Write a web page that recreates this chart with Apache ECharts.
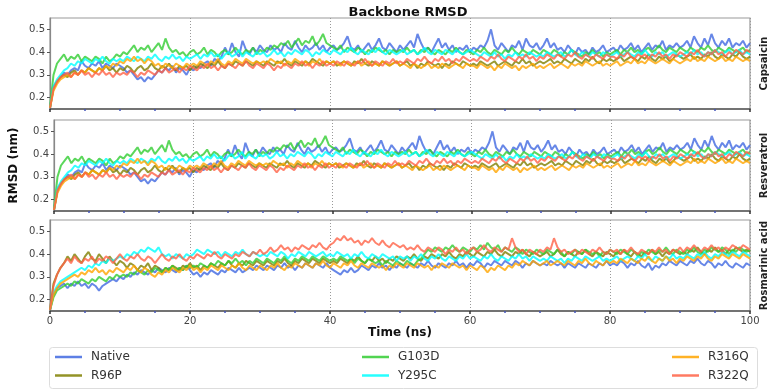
<!DOCTYPE html>
<html>
<head>
<meta charset="utf-8">
<script src="https://cdn.jsdelivr.net/npm/echarts@6/dist/echarts.min.js"></script>
<style>
  html, body { margin: 0; padding: 0; background: #fff; }
  #chart { width: 777px; height: 391px; }
</style>
</head>
<body>
<div id="chart"></div>
<script>
// time points (ns), every 0.5 ns
const time = [];
for (let i = 0; i <= 200; i++) time.push(i / 2);

const names = ['Native', 'R96P', 'G103D', 'Y295C', 'R316Q', 'R322Q'];
const colors = ['#4169E1', '#808000', '#32CD32', '#00FFFF', '#FFA500', '#FF6347'];
const panelNames = ['Capsaicin', 'Resveratrol', 'Rosmarinic acid'];
const yLabels = [0.2, 0.3, 0.4, 0.5];
const xLabels = [0, 20, 40, 60, 80, 100];

// ---- Capsaicin ----
const capNative = [0.155,
  0.25, 0.27, 0.29, 0.31, 0.30, 0.32, 0.33, 0.32, 0.36, 0.34, 0.33, 0.35, 0.34, 0.36, 0.33, 0.35, 0.34, 0.33, 0.35, 0.34,
  0.33, 0.31, 0.32, 0.30, 0.28, 0.29, 0.27, 0.29, 0.28, 0.30, 0.32, 0.31, 0.33, 0.32, 0.34, 0.31, 0.33, 0.32, 0.30, 0.33,
  0.32, 0.34, 0.33, 0.35, 0.36, 0.34, 0.37, 0.36, 0.38, 0.42, 0.39, 0.44, 0.40, 0.38, 0.45, 0.41, 0.39, 0.42, 0.40, 0.43,
  0.41, 0.40, 0.43, 0.41, 0.42, 0.40, 0.44, 0.42, 0.41, 0.45, 0.42, 0.40, 0.43, 0.41, 0.42, 0.44, 0.41, 0.43, 0.40, 0.42,
  0.43, 0.41, 0.42, 0.44, 0.47, 0.42, 0.41, 0.43, 0.40, 0.42, 0.44, 0.41, 0.43, 0.46, 0.42, 0.41, 0.44, 0.42, 0.40, 0.43,
  0.41, 0.43, 0.45, 0.42, 0.48, 0.44, 0.41, 0.42, 0.40, 0.43, 0.46, 0.42, 0.44, 0.41, 0.43, 0.40, 0.42, 0.41, 0.43, 0.40,
  0.42, 0.41, 0.43, 0.42, 0.45, 0.50, 0.43, 0.41, 0.44, 0.42, 0.40, 0.43, 0.42, 0.45, 0.41, 0.46, 0.43, 0.42, 0.44, 0.41,
  0.43, 0.46, 0.42, 0.44, 0.41, 0.42, 0.40, 0.43, 0.41, 0.39, 0.42, 0.40, 0.41, 0.39, 0.42, 0.40, 0.41, 0.43, 0.40, 0.41,
  0.42, 0.40, 0.43, 0.41, 0.42, 0.44, 0.41, 0.43, 0.40, 0.42, 0.44, 0.41, 0.43, 0.42, 0.45, 0.41, 0.43, 0.42, 0.44, 0.42,
  0.43, 0.45, 0.42, 0.47, 0.44, 0.42, 0.46, 0.43, 0.48, 0.44, 0.42, 0.45, 0.43, 0.46, 0.42, 0.44, 0.43, 0.45, 0.42, 0.44];
const capR96P = [0.155,
  0.24, 0.27, 0.29, 0.30, 0.29, 0.31, 0.32, 0.30, 0.32, 0.31, 0.33, 0.32, 0.31, 0.33, 0.32, 0.34, 0.32, 0.33, 0.31, 0.33,
  0.32, 0.34, 0.33, 0.31, 0.33, 0.34, 0.32, 0.33, 0.35, 0.33, 0.32, 0.34, 0.33, 0.35, 0.33, 0.32, 0.34, 0.33, 0.34, 0.32,
  0.34, 0.33, 0.35, 0.34, 0.33, 0.35, 0.34, 0.36, 0.34, 0.33, 0.35, 0.34, 0.36, 0.35, 0.34, 0.36, 0.35, 0.34, 0.36, 0.35,
  0.34, 0.36, 0.35, 0.34, 0.36, 0.35, 0.37, 0.35, 0.34, 0.36, 0.35, 0.34, 0.36, 0.35, 0.37, 0.36, 0.35, 0.34, 0.36, 0.35,
  0.36, 0.34, 0.35, 0.36, 0.35, 0.34, 0.36, 0.35, 0.37, 0.35, 0.34, 0.36, 0.35, 0.34, 0.36, 0.35, 0.34, 0.35, 0.36, 0.34,
  0.35, 0.36, 0.34, 0.35, 0.33, 0.35, 0.34, 0.36, 0.35, 0.34, 0.35, 0.33, 0.35, 0.34, 0.36, 0.35, 0.34, 0.36, 0.35, 0.34,
  0.35, 0.34, 0.36, 0.35, 0.34, 0.35, 0.36, 0.34, 0.35, 0.36, 0.35, 0.34, 0.36, 0.35, 0.37, 0.35, 0.36, 0.34, 0.35, 0.36,
  0.35, 0.36, 0.37, 0.35, 0.36, 0.35, 0.37, 0.36, 0.35, 0.37, 0.36, 0.35, 0.37, 0.36, 0.38, 0.36, 0.35, 0.37, 0.36, 0.37,
  0.36, 0.37, 0.38, 0.36, 0.37, 0.38, 0.37, 0.36, 0.38, 0.37, 0.39, 0.37, 0.36, 0.38, 0.37, 0.38, 0.36, 0.37, 0.39, 0.38,
  0.37, 0.38, 0.39, 0.37, 0.38, 0.37, 0.39, 0.38, 0.40, 0.38, 0.37, 0.39, 0.38, 0.37, 0.39, 0.38, 0.40, 0.38, 0.37, 0.38];
const capG103D = [0.16,
  0.30, 0.35, 0.37, 0.39, 0.36, 0.38, 0.37, 0.39, 0.36, 0.38, 0.37, 0.36, 0.38, 0.37, 0.35, 0.38, 0.36, 0.37, 0.39, 0.38,
  0.40, 0.39, 0.41, 0.43, 0.40, 0.42, 0.41, 0.43, 0.40, 0.42, 0.44, 0.41, 0.46, 0.42, 0.40, 0.41, 0.39, 0.40, 0.38, 0.40,
  0.41, 0.39, 0.40, 0.42, 0.39, 0.41, 0.40, 0.38, 0.40, 0.41, 0.39, 0.40, 0.42, 0.40, 0.39, 0.41, 0.40, 0.42, 0.39, 0.41,
  0.40, 0.42, 0.41, 0.43, 0.42, 0.44, 0.43, 0.45, 0.42, 0.44, 0.46, 0.43, 0.45, 0.44, 0.47, 0.43, 0.45, 0.48, 0.44, 0.43,
  0.42, 0.41, 0.43, 0.40, 0.42, 0.41, 0.40, 0.42, 0.41, 0.39, 0.41, 0.40, 0.42, 0.41, 0.40, 0.41, 0.39, 0.41, 0.40, 0.41,
  0.40, 0.42, 0.40, 0.41, 0.39, 0.41, 0.40, 0.42, 0.40, 0.39, 0.41, 0.40, 0.39, 0.41, 0.40, 0.42, 0.40, 0.39, 0.41, 0.40,
  0.39, 0.41, 0.40, 0.42, 0.40, 0.39, 0.41, 0.40, 0.39, 0.41, 0.40, 0.42, 0.40, 0.39, 0.41, 0.40, 0.39, 0.41, 0.40, 0.39,
  0.41, 0.40, 0.39, 0.41, 0.40, 0.38, 0.40, 0.39, 0.41, 0.40, 0.39, 0.38, 0.40, 0.39, 0.41, 0.39, 0.40, 0.38, 0.40, 0.39,
  0.40, 0.41, 0.39, 0.41, 0.40, 0.42, 0.40, 0.41, 0.39, 0.41, 0.42, 0.40, 0.41, 0.43, 0.41, 0.40, 0.42, 0.41, 0.40, 0.42,
  0.41, 0.40, 0.42, 0.41, 0.40, 0.42, 0.41, 0.43, 0.41, 0.40, 0.42, 0.41, 0.40, 0.42, 0.41, 0.40, 0.41, 0.42, 0.40, 0.41];
const capY295C = [0.155,
  0.25, 0.28, 0.30, 0.32, 0.33, 0.35, 0.34, 0.36, 0.35, 0.37, 0.36, 0.35, 0.37, 0.36, 0.38, 0.36, 0.35, 0.37, 0.36, 0.37,
  0.36, 0.38, 0.37, 0.36, 0.38, 0.37, 0.36, 0.38, 0.37, 0.39, 0.37, 0.36, 0.38, 0.37, 0.39, 0.37, 0.38, 0.36, 0.38, 0.37,
  0.38, 0.39, 0.37, 0.39, 0.38, 0.40, 0.38, 0.39, 0.37, 0.39, 0.40, 0.38, 0.39, 0.41, 0.38, 0.40, 0.39, 0.38, 0.40, 0.39,
  0.40, 0.38, 0.39, 0.41, 0.39, 0.40, 0.38, 0.40, 0.39, 0.41, 0.40, 0.39, 0.41, 0.40, 0.38, 0.40, 0.39, 0.41, 0.40, 0.39,
  0.41, 0.40, 0.39, 0.41, 0.40, 0.42, 0.40, 0.39, 0.41, 0.40, 0.39, 0.41, 0.40, 0.42, 0.40, 0.39, 0.41, 0.40, 0.39, 0.40,
  0.41, 0.39, 0.40, 0.41, 0.39, 0.40, 0.42, 0.40, 0.39, 0.41, 0.40, 0.39, 0.41, 0.40, 0.39, 0.41, 0.40, 0.39, 0.40, 0.41,
  0.40, 0.39, 0.38, 0.40, 0.39, 0.38, 0.40, 0.38, 0.39, 0.37, 0.39, 0.38, 0.40, 0.38, 0.39, 0.38, 0.40, 0.39, 0.38, 0.39,
  0.38, 0.40, 0.39, 0.38, 0.39, 0.40, 0.38, 0.39, 0.41, 0.39, 0.38, 0.40, 0.39, 0.38, 0.40, 0.39, 0.38, 0.40, 0.39, 0.38,
  0.39, 0.40, 0.38, 0.39, 0.40, 0.39, 0.38, 0.40, 0.39, 0.41, 0.39, 0.38, 0.40, 0.39, 0.40, 0.38, 0.39, 0.40, 0.39, 0.38,
  0.39, 0.40, 0.39, 0.41, 0.39, 0.40, 0.38, 0.40, 0.39, 0.41, 0.40, 0.39, 0.40, 0.41, 0.39, 0.40, 0.41, 0.39, 0.40, 0.39];
const capR316Q = [0.155,
  0.23, 0.26, 0.28, 0.29, 0.30, 0.29, 0.31, 0.30, 0.32, 0.31, 0.33, 0.32, 0.31, 0.33, 0.32, 0.34, 0.33, 0.35, 0.34, 0.36,
  0.35, 0.37, 0.36, 0.38, 0.36, 0.37, 0.35, 0.37, 0.36, 0.34, 0.35, 0.33, 0.35, 0.34, 0.33, 0.35, 0.34, 0.33, 0.35, 0.34,
  0.35, 0.34, 0.36, 0.35, 0.34, 0.36, 0.35, 0.37, 0.35, 0.34, 0.36, 0.35, 0.37, 0.36, 0.35, 0.37, 0.36, 0.35, 0.36, 0.35,
  0.36, 0.35, 0.37, 0.36, 0.35, 0.36, 0.34, 0.36, 0.35, 0.37, 0.36, 0.35, 0.36, 0.34, 0.36, 0.35, 0.37, 0.35, 0.36, 0.35,
  0.36, 0.35, 0.34, 0.36, 0.35, 0.34, 0.35, 0.36, 0.34, 0.35, 0.36, 0.34, 0.35, 0.34, 0.36, 0.35, 0.34, 0.35, 0.36, 0.34,
  0.35, 0.34, 0.33, 0.35, 0.34, 0.33, 0.34, 0.35, 0.33, 0.34, 0.33, 0.35, 0.34, 0.33, 0.34, 0.35, 0.34, 0.33, 0.35, 0.34,
  0.34, 0.33, 0.35, 0.34, 0.33, 0.34, 0.32, 0.34, 0.33, 0.35, 0.34, 0.33, 0.34, 0.32, 0.34, 0.33, 0.34, 0.35, 0.33, 0.34,
  0.33, 0.34, 0.35, 0.33, 0.34, 0.35, 0.34, 0.33, 0.35, 0.34, 0.35, 0.34, 0.36, 0.35, 0.34, 0.35, 0.36, 0.34, 0.35, 0.34,
  0.35, 0.36, 0.34, 0.35, 0.36, 0.35, 0.37, 0.35, 0.36, 0.35, 0.37, 0.36, 0.35, 0.36, 0.37, 0.36, 0.35, 0.37, 0.36, 0.35,
  0.36, 0.37, 0.36, 0.38, 0.36, 0.37, 0.36, 0.38, 0.37, 0.36, 0.37, 0.38, 0.36, 0.37, 0.36, 0.38, 0.37, 0.36, 0.37, 0.36];
const capR322Q = [0.155,
  0.24, 0.27, 0.29, 0.30, 0.31, 0.29, 0.31, 0.30, 0.32, 0.30, 0.31, 0.29, 0.31, 0.30, 0.32, 0.30, 0.31, 0.29, 0.31, 0.30,
  0.31, 0.30, 0.32, 0.31, 0.29, 0.31, 0.30, 0.32, 0.31, 0.30, 0.32, 0.31, 0.33, 0.31, 0.32, 0.33, 0.31, 0.33, 0.32, 0.34,
  0.33, 0.32, 0.34, 0.33, 0.35, 0.33, 0.34, 0.32, 0.34, 0.33, 0.35, 0.34, 0.33, 0.35, 0.34, 0.36, 0.34, 0.33, 0.35, 0.34,
  0.33, 0.35, 0.34, 0.32, 0.34, 0.33, 0.35, 0.34, 0.33, 0.35, 0.34, 0.36, 0.34, 0.35, 0.33, 0.35, 0.34, 0.36, 0.34, 0.35,
  0.34, 0.36, 0.35, 0.34, 0.36, 0.35, 0.34, 0.36, 0.35, 0.37, 0.35, 0.34, 0.36, 0.35, 0.34, 0.36, 0.35, 0.37, 0.35, 0.36,
  0.35, 0.37, 0.36, 0.35, 0.37, 0.36, 0.38, 0.36, 0.35, 0.37, 0.36, 0.38, 0.36, 0.37, 0.35, 0.37, 0.36, 0.38, 0.37, 0.36,
  0.37, 0.36, 0.38, 0.37, 0.36, 0.38, 0.37, 0.39, 0.37, 0.36, 0.38, 0.37, 0.36, 0.38, 0.37, 0.39, 0.37, 0.38, 0.36, 0.38,
  0.37, 0.39, 0.38, 0.37, 0.39, 0.38, 0.37, 0.39, 0.38, 0.40, 0.38, 0.37, 0.39, 0.38, 0.37, 0.39, 0.38, 0.37, 0.39, 0.38,
  0.38, 0.37, 0.39, 0.38, 0.40, 0.38, 0.37, 0.39, 0.38, 0.39, 0.37, 0.39, 0.38, 0.40, 0.38, 0.39, 0.37, 0.39, 0.38, 0.40,
  0.39, 0.38, 0.40, 0.39, 0.41, 0.39, 0.38, 0.40, 0.39, 0.41, 0.39, 0.40, 0.38, 0.40, 0.39, 0.41, 0.40, 0.39, 0.41, 0.40];

// ---- Resveratrol: the figure shows the same traces as Capsaicin ----
const resNative = capNative, resR96P = capR96P, resG103D = capG103D;
const resY295C = capY295C, resR316Q = capR316Q, resR322Q = capR322Q;

// ---- Rosmarinic acid ----
const rosNative = [0.155,
  0.22, 0.25, 0.26, 0.27, 0.25, 0.27, 0.26, 0.28, 0.26, 0.27, 0.25, 0.27, 0.26, 0.24, 0.26, 0.27, 0.28, 0.29, 0.28, 0.30,
  0.29, 0.31, 0.30, 0.32, 0.31, 0.33, 0.32, 0.31, 0.33, 0.32, 0.34, 0.33, 0.32, 0.34, 0.33, 0.32, 0.34, 0.33, 0.35, 0.33,
  0.31, 0.32, 0.30, 0.32, 0.31, 0.33, 0.32, 0.31, 0.33, 0.32, 0.34, 0.33, 0.32, 0.34, 0.32, 0.33, 0.34, 0.33, 0.35, 0.34,
  0.33, 0.35, 0.34, 0.33, 0.35, 0.34, 0.36, 0.34, 0.35, 0.33, 0.35, 0.34, 0.36, 0.35, 0.34, 0.36, 0.35, 0.34, 0.36, 0.34,
  0.33, 0.32, 0.31, 0.33, 0.32, 0.34, 0.32, 0.33, 0.35, 0.34, 0.33, 0.35, 0.34, 0.36, 0.34, 0.35, 0.33, 0.35, 0.34, 0.36,
  0.35, 0.34, 0.36, 0.35, 0.34, 0.36, 0.35, 0.37, 0.35, 0.34, 0.36, 0.35, 0.34, 0.36, 0.35, 0.37, 0.35, 0.36, 0.34, 0.36,
  0.35, 0.37, 0.36, 0.34, 0.36, 0.35, 0.37, 0.36, 0.35, 0.37, 0.36, 0.35, 0.37, 0.36, 0.34, 0.36, 0.35, 0.37, 0.36, 0.35,
  0.36, 0.35, 0.37, 0.36, 0.35, 0.36, 0.34, 0.36, 0.35, 0.34, 0.36, 0.35, 0.34, 0.36, 0.35, 0.34, 0.36, 0.35, 0.37, 0.35,
  0.36, 0.35, 0.37, 0.36, 0.34, 0.36, 0.35, 0.37, 0.35, 0.34, 0.36, 0.33, 0.35, 0.34, 0.36, 0.35, 0.37, 0.36, 0.35, 0.37,
  0.36, 0.35, 0.37, 0.36, 0.38, 0.36, 0.35, 0.37, 0.36, 0.34, 0.36, 0.35, 0.37, 0.35, 0.34, 0.36, 0.35, 0.34, 0.36, 0.35];
const rosR96P = [0.155,
  0.27, 0.31, 0.34, 0.36, 0.39, 0.37, 0.40, 0.38, 0.36, 0.39, 0.41, 0.38, 0.37, 0.40, 0.38, 0.36, 0.39, 0.37, 0.35, 0.37,
  0.36, 0.34, 0.36, 0.35, 0.33, 0.35, 0.34, 0.36, 0.33, 0.35, 0.34, 0.32, 0.34, 0.33, 0.35, 0.34, 0.33, 0.35, 0.34, 0.36,
  0.34, 0.35, 0.33, 0.35, 0.34, 0.36, 0.35, 0.34, 0.36, 0.35, 0.37, 0.35, 0.34, 0.36, 0.35, 0.37, 0.36, 0.35, 0.37, 0.36,
  0.35, 0.37, 0.36, 0.35, 0.37, 0.36, 0.38, 0.36, 0.35, 0.37, 0.36, 0.38, 0.37, 0.36, 0.38, 0.37, 0.36, 0.38, 0.37, 0.36,
  0.37, 0.36, 0.38, 0.37, 0.36, 0.38, 0.37, 0.39, 0.37, 0.36, 0.38, 0.37, 0.39, 0.37, 0.38, 0.36, 0.38, 0.37, 0.39, 0.38,
  0.37, 0.39, 0.38, 0.40, 0.38, 0.37, 0.39, 0.38, 0.40, 0.39, 0.38, 0.40, 0.39, 0.41, 0.39, 0.38, 0.40, 0.39, 0.41, 0.40,
  0.39, 0.41, 0.40, 0.39, 0.41, 0.40, 0.42, 0.40, 0.39, 0.41, 0.40, 0.39, 0.41, 0.40, 0.42, 0.40, 0.39, 0.41, 0.40, 0.39,
  0.40, 0.41, 0.39, 0.40, 0.42, 0.40, 0.39, 0.41, 0.40, 0.39, 0.41, 0.40, 0.42, 0.40, 0.39, 0.41, 0.40, 0.39, 0.41, 0.40,
  0.39, 0.41, 0.40, 0.42, 0.40, 0.39, 0.41, 0.40, 0.39, 0.41, 0.40, 0.42, 0.40, 0.41, 0.39, 0.41, 0.40, 0.42, 0.41, 0.40,
  0.41, 0.40, 0.42, 0.41, 0.43, 0.41, 0.40, 0.42, 0.41, 0.43, 0.41, 0.42, 0.40, 0.42, 0.41, 0.43, 0.42, 0.41, 0.42, 0.41];
const rosG103D = [0.155,
  0.21, 0.24, 0.25, 0.26, 0.27, 0.26, 0.28, 0.27, 0.29, 0.28, 0.27, 0.29, 0.28, 0.30, 0.29, 0.28, 0.30, 0.29, 0.31, 0.30,
  0.31, 0.30, 0.32, 0.31, 0.33, 0.32, 0.31, 0.33, 0.32, 0.34, 0.33, 0.32, 0.34, 0.33, 0.35, 0.33, 0.34, 0.33, 0.35, 0.34,
  0.35, 0.34, 0.36, 0.35, 0.34, 0.36, 0.35, 0.37, 0.36, 0.35, 0.37, 0.36, 0.38, 0.36, 0.37, 0.35, 0.37, 0.36, 0.38, 0.37,
  0.36, 0.38, 0.37, 0.36, 0.38, 0.37, 0.39, 0.37, 0.36, 0.38, 0.37, 0.39, 0.38, 0.37, 0.39, 0.38, 0.37, 0.39, 0.38, 0.37,
  0.38, 0.37, 0.39, 0.38, 0.37, 0.38, 0.36, 0.38, 0.37, 0.36, 0.38, 0.37, 0.36, 0.37, 0.35, 0.37, 0.36, 0.35, 0.37, 0.36,
  0.35, 0.37, 0.36, 0.35, 0.37, 0.38, 0.40, 0.42, 0.41, 0.43, 0.42, 0.41, 0.43, 0.42, 0.44, 0.42, 0.41, 0.43, 0.42, 0.41,
  0.43, 0.42, 0.44, 0.42, 0.45, 0.43, 0.42, 0.44, 0.41, 0.43, 0.42, 0.41, 0.43, 0.42, 0.40, 0.42, 0.41, 0.40, 0.42, 0.41,
  0.40, 0.42, 0.41, 0.40, 0.42, 0.41, 0.39, 0.41, 0.40, 0.42, 0.41, 0.40, 0.42, 0.41, 0.40, 0.41, 0.39, 0.41, 0.40, 0.42,
  0.41, 0.40, 0.42, 0.41, 0.40, 0.42, 0.41, 0.39, 0.41, 0.40, 0.42, 0.41, 0.40, 0.42, 0.41, 0.43, 0.41, 0.40, 0.42, 0.41,
  0.40, 0.42, 0.41, 0.43, 0.41, 0.40, 0.42, 0.41, 0.43, 0.42, 0.41, 0.43, 0.42, 0.40, 0.42, 0.41, 0.43, 0.42, 0.41, 0.42];
const rosY295C = [0.155,
  0.23, 0.26, 0.28, 0.29, 0.30, 0.31, 0.32, 0.33, 0.34, 0.33, 0.35, 0.34, 0.36, 0.35, 0.37, 0.36, 0.38, 0.37, 0.38, 0.39,
  0.38, 0.40, 0.39, 0.41, 0.40, 0.42, 0.41, 0.43, 0.42, 0.41, 0.43, 0.40, 0.39, 0.40, 0.38, 0.40, 0.39, 0.38, 0.40, 0.39,
  0.40, 0.42, 0.41, 0.40, 0.42, 0.41, 0.40, 0.41, 0.39, 0.41, 0.40, 0.39, 0.41, 0.40, 0.42, 0.40, 0.39, 0.41, 0.40, 0.39,
  0.40, 0.39, 0.41, 0.40, 0.39, 0.41, 0.40, 0.38, 0.40, 0.39, 0.41, 0.40, 0.39, 0.41, 0.40, 0.39, 0.40, 0.41, 0.39, 0.40,
  0.39, 0.41, 0.40, 0.39, 0.40, 0.38, 0.40, 0.39, 0.41, 0.39, 0.38, 0.40, 0.39, 0.38, 0.40, 0.39, 0.38, 0.39, 0.37, 0.39,
  0.38, 0.39, 0.37, 0.39, 0.38, 0.40, 0.38, 0.37, 0.39, 0.38, 0.40, 0.38, 0.37, 0.39, 0.38, 0.37, 0.39, 0.38, 0.40, 0.38,
  0.39, 0.38, 0.37, 0.39, 0.38, 0.40, 0.38, 0.37, 0.39, 0.38, 0.37, 0.39, 0.38, 0.40, 0.38, 0.39, 0.37, 0.39, 0.38, 0.37,
  0.38, 0.37, 0.39, 0.38, 0.37, 0.38, 0.36, 0.38, 0.37, 0.39, 0.38, 0.37, 0.39, 0.38, 0.37, 0.38, 0.39, 0.37, 0.38, 0.37,
  0.38, 0.39, 0.37, 0.38, 0.39, 0.38, 0.37, 0.39, 0.38, 0.40, 0.38, 0.37, 0.39, 0.38, 0.37, 0.39, 0.38, 0.40, 0.38, 0.39,
  0.38, 0.40, 0.39, 0.38, 0.40, 0.39, 0.41, 0.39, 0.38, 0.40, 0.39, 0.41, 0.40, 0.39, 0.41, 0.40, 0.39, 0.41, 0.40, 0.39];
const rosR316Q = [0.155,
  0.22, 0.25, 0.27, 0.28, 0.29, 0.30, 0.31, 0.30, 0.32, 0.31, 0.33, 0.32, 0.34, 0.32, 0.33, 0.31, 0.33, 0.32, 0.34, 0.33,
  0.32, 0.34, 0.33, 0.35, 0.33, 0.32, 0.34, 0.33, 0.31, 0.30, 0.32, 0.31, 0.33, 0.32, 0.34, 0.33, 0.32, 0.34, 0.33, 0.35,
  0.33, 0.34, 0.32, 0.34, 0.33, 0.35, 0.34, 0.33, 0.35, 0.34, 0.33, 0.35, 0.34, 0.36, 0.34, 0.33, 0.35, 0.34, 0.33, 0.35,
  0.34, 0.33, 0.35, 0.34, 0.36, 0.34, 0.33, 0.35, 0.34, 0.36, 0.35, 0.34, 0.36, 0.35, 0.34, 0.36, 0.35, 0.37, 0.35, 0.34,
  0.36, 0.35, 0.34, 0.36, 0.35, 0.37, 0.35, 0.34, 0.36, 0.35, 0.34, 0.36, 0.35, 0.34, 0.35, 0.33, 0.35, 0.34, 0.36, 0.35,
  0.34, 0.36, 0.35, 0.34, 0.36, 0.35, 0.34, 0.35, 0.33, 0.35, 0.34, 0.36, 0.35, 0.34, 0.36, 0.35, 0.34, 0.35, 0.33, 0.35,
  0.34, 0.33, 0.35, 0.34, 0.32, 0.34, 0.33, 0.35, 0.34, 0.33, 0.35, 0.34, 0.36, 0.35, 0.37, 0.36, 0.35, 0.37, 0.36, 0.35,
  0.36, 0.37, 0.35, 0.36, 0.37, 0.36, 0.35, 0.37, 0.36, 0.35, 0.37, 0.36, 0.38, 0.36, 0.35, 0.37, 0.36, 0.35, 0.37, 0.36,
  0.37, 0.36, 0.38, 0.37, 0.36, 0.38, 0.37, 0.36, 0.38, 0.37, 0.39, 0.37, 0.36, 0.38, 0.37, 0.39, 0.37, 0.38, 0.36, 0.38,
  0.37, 0.39, 0.38, 0.37, 0.39, 0.38, 0.40, 0.38, 0.37, 0.39, 0.38, 0.40, 0.39, 0.38, 0.40, 0.39, 0.38, 0.40, 0.39, 0.38];
const rosR322Q = [0.155,
  0.26, 0.31, 0.34, 0.36, 0.38, 0.36, 0.39, 0.37, 0.36, 0.38, 0.37, 0.39, 0.36, 0.38, 0.37, 0.39, 0.38, 0.36, 0.38, 0.40,
  0.38, 0.37, 0.39, 0.38, 0.40, 0.38, 0.37, 0.39, 0.38, 0.36, 0.38, 0.40, 0.38, 0.37, 0.39, 0.38, 0.40, 0.38, 0.37, 0.39,
  0.38, 0.40, 0.39, 0.38, 0.40, 0.39, 0.41, 0.39, 0.38, 0.40, 0.39, 0.38, 0.40, 0.39, 0.41, 0.40, 0.39, 0.41, 0.40, 0.42,
  0.40, 0.41, 0.43, 0.41, 0.42, 0.44, 0.42, 0.43, 0.41, 0.43, 0.42, 0.44, 0.43, 0.42, 0.44, 0.43, 0.45, 0.43, 0.42, 0.44,
  0.45, 0.47, 0.46, 0.48, 0.46, 0.47, 0.45, 0.46, 0.44, 0.46, 0.45, 0.47, 0.45, 0.44, 0.46, 0.44, 0.43, 0.45, 0.44, 0.43,
  0.44, 0.42, 0.43, 0.42, 0.44, 0.42, 0.41, 0.43, 0.42, 0.41, 0.43, 0.42, 0.40, 0.42, 0.41, 0.43, 0.41, 0.42, 0.40, 0.42,
  0.43, 0.41, 0.42, 0.44, 0.42, 0.41, 0.43, 0.42, 0.41, 0.43, 0.42, 0.47, 0.43, 0.41, 0.42, 0.40, 0.42, 0.41, 0.40, 0.42,
  0.41, 0.43, 0.42, 0.47, 0.43, 0.41, 0.42, 0.40, 0.41, 0.42, 0.40, 0.42, 0.41, 0.40, 0.42, 0.41, 0.43, 0.41, 0.40, 0.42,
  0.41, 0.42, 0.40, 0.42, 0.41, 0.43, 0.41, 0.40, 0.42, 0.41, 0.40, 0.42, 0.41, 0.43, 0.41, 0.42, 0.40, 0.42, 0.41, 0.43,
  0.41, 0.43, 0.42, 0.44, 0.42, 0.41, 0.43, 0.42, 0.44, 0.42, 0.43, 0.41, 0.43, 0.42, 0.44, 0.43, 0.42, 0.44, 0.43, 0.42];

const panels = [
  [capNative, capR96P, capG103D, capY295C, capR316Q, capR322Q],
  [resNative, resR96P, resG103D, resY295C, resR316Q, resR322Q],
  [rosNative, rosR96P, rosG103D, rosY295C, rosR316Q, rosR322Q]
];

var font = 'DejaVu Sans';
var tops = [18, 120, 220];
var grid = [], xAxis = [], yAxis = [], series = [];

for (let p = 0; p < 3; p++) {
  grid.push({
    left: 50, right: 20, top: tops[p], height: 91,
    show: true, borderColor: '#999', borderWidth: 1.2
  });
  xAxis.push({
    type: 'value', gridIndex: p, min: 0, max: 100, interval: 20,
    name: p === 2 ? 'Time (ns)' : '',
    nameLocation: 'middle', nameGap: 15,
    nameTextStyle: { fontFamily: font, fontWeight: 'bold', fontSize: 12, color: '#111' },
    axisLine: { show: true, lineStyle: { color: '#555', width: 1.5 } },
    axisTick: { show: true, length: 3, lineStyle: { color: '#333', width: 1.5 } },
    minorTick: { show: true, splitNumber: 4, length: 2, lineStyle: { color: '#4455bb', width: 1.5 } },
    axisLabel: {
      show: p === 2, fontFamily: font, fontSize: 10, color: '#444', margin: 5,
      customValues: xLabels
    },
    splitLine: { show: true, lineStyle: { color: '#999', type: [1, 2], width: 1 } }
  });
  yAxis.push({
    type: 'value', gridIndex: p, min: 0.15, max: 0.55,
    name: p === 1 ? 'RMSD (nm)' : '',
    nameLocation: 'middle', nameGap: 34, nameRotate: 90,
    nameTextStyle: { fontFamily: font, fontWeight: 'bold', fontSize: 12, color: '#111' },
    axisLine: { show: true, lineStyle: { color: '#888', width: 1.2 } },
    axisTick: { show: true, length: 3, customValues: yLabels, lineStyle: { color: '#555' } },
    axisLabel: {
      fontFamily: font, fontSize: 10, color: '#444', margin: 5,
      customValues: yLabels,
      formatter: v => v.toFixed(1)
    },
    splitLine: { show: false }
  });
  // right-hand panel label
  yAxis.push({
    type: 'value', gridIndex: p, position: 'right', min: 0.15, max: 0.55,
    name: panelNames[p], nameLocation: 'middle', nameGap: 9, nameRotate: 90,
    nameTextStyle: { fontFamily: font, fontWeight: 'bold', fontSize: 10, color: '#222' },
    axisLine: { show: false }, axisTick: { show: false },
    axisLabel: { show: false }, splitLine: { show: false }
  });
  for (let s = 0; s < names.length; s++) {
    series.push({
      name: names[s], type: 'line',
      xAxisIndex: p, yAxisIndex: p * 2,
      data: time.map((t, i) => [t, panels[p][s][i]]),
      symbol: 'none', silent: true,
      lineStyle: { color: colors[s], width: 2, opacity: 0.8 },
      itemStyle: { color: colors[s] }
    });
  }
}

// one legend entry per slot: 3 columns x 2 rows
var legendLeft = [55, 55, 362, 362, 672, 672];
var legendTop = [351, 369.5, 351, 369.5, 351, 369.5];
var legend = names.map((n, i) => ({
  left: legendLeft[i], top: legendTop[i], padding: 0,
  data: [n], icon: 'rect', itemWidth: 27, itemHeight: 2.5,
  textStyle: { fontFamily: font, fontSize: 12, color: '#333', padding: [0, 0, 0, 4] },
  itemStyle: { opacity: 0.85 }
}));

var chartDom = document.getElementById('chart');
var myChart = echarts.init(chartDom);
var option = {
  backgroundColor: '#fff',
  animation: false,
  title: {
    text: 'Backbone RMSD', left: 403, textAlign: 'center', top: 1,
    textStyle: { fontFamily: font, fontWeight: 'bold', fontSize: 13, color: '#111' }
  },
  graphic: [{
    type: 'rect', left: 49, top: 347,
    shape: { width: 708, height: 41, r: 3 },
    style: { fill: '#fff', stroke: '#ddd', lineWidth: 1 },
    z: -1
  }],
  legend: legend,
  grid: grid,
  xAxis: xAxis,
  yAxis: yAxis,
  series: series
};
option && myChart.setOption(option);
</script>
</body>
</html>
